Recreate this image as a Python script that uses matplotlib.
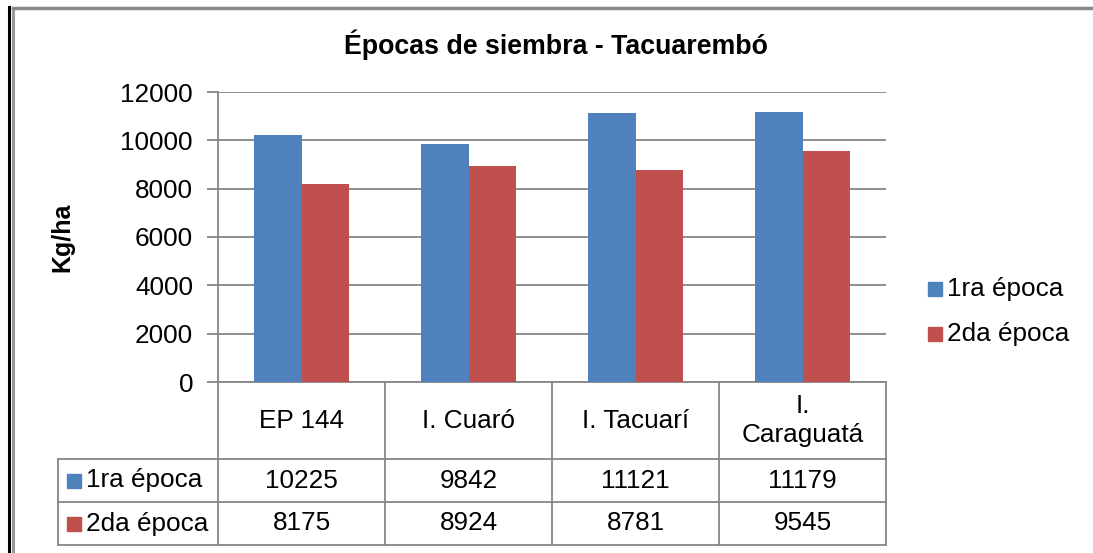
import numpy as np
import matplotlib
matplotlib.use('Agg')
import matplotlib.pyplot as plt
from matplotlib.lines import Line2D
from matplotlib.patches import Rectangle
import matplotlib.transforms as mtransforms

plt.rcParams['font.family'] = ['Liberation Sans', 'DejaVu Sans']

# Datos
categorias = ['EP 144', 'I. Cuaró', 'I. Tacuarí', 'I.\nCaraguatá']
epoca1 = [10225, 9842, 11121, 11179]
epoca2 = [8175, 8924, 8781, 9545]
series = ['1ra época', '2da época']
colores = ['#4F81BD', '#C0504D']
yticks = [0, 2000, 4000, 6000, 8000, 10000, 12000]

W, H = 1093, 553
fig = plt.figure(figsize=(W / 100, H / 100), dpi=100)

# area del grafico en pixeles (izq, arriba, der, abajo)
px_l, px_t, px_r, px_b = 218, 92, 886, 382
ax = fig.add_axes([px_l / W, 1 - px_b / H, (px_r - px_l) / W, (px_b - px_t) / H])

grid_col = '#868686'
fs = 18.8
x = np.arange(len(categorias))
ancho = 0.285
ax.bar(x - ancho / 2, epoca1, ancho, color=colores[0], zorder=3)
ax.bar(x + ancho / 2, epoca2, ancho, color=colores[1], zorder=3)

ax.set_xlim(-0.5, len(categorias) - 0.5)
ax.set_ylim(0, 12000)
ax.set_yticks(yticks)
ax.set_yticklabels([str(v) for v in yticks], fontsize=fs)
ax.set_xticks([])
ax.yaxis.grid(True, color=grid_col, linewidth=1.3, zorder=0)
ax.tick_params(axis='y', length=8, width=1.3, color=grid_col, pad=10)
for s in ['top', 'right']:
    ax.spines[s].set_visible(False)
ax.spines['left'].set_color(grid_col)
ax.spines['left'].set_linewidth(1.3)
ax.spines['bottom'].set_color(grid_col)
ax.spines['bottom'].set_linewidth(1.3)

fig.text(62 / W, 1 - 237 / H, 'Kg/ha', rotation=90, ha='center', va='center',
         fontsize=18, fontweight='bold')
fig.text(556 / W, 1 - 45 / H, 'Épocas de siembra - Tacuarembó', ha='center', va='center',
         fontsize=19.3, fontweight='bold')

# Tabla de datos (x en datos, y en ejes)
trans = mtransforms.blended_transform_factory(ax.transData, ax.transAxes)
h = px_b - px_t
y_head = -(459 - px_b) / h
y_r1 = -(502 - px_b) / h
y_r2 = -(545 - px_b) / h
x_left = -0.5 - (px_l - 58) / ((px_r - px_l) / len(categorias))
x_right = len(categorias) - 0.5

def linea(xs, ys):
    ax.add_line(Line2D(xs, ys, transform=trans, color=grid_col, linewidth=1.3, clip_on=False))

for b in np.arange(-0.5, len(categorias), 1.0):
    linea([b, b], [0, y_r2])
linea([x_left, x_left], [y_head, y_r2])
for yy in [y_head, y_r1, y_r2]:
    linea([x_left, x_right], [yy, yy])

for i, cat in enumerate(categorias):
    ax.text(i, y_head / 2, cat, transform=trans, ha='center', va='center', fontsize=fs,
            linespacing=1.25)
    ax.text(i, (y_head + y_r1) / 2, str(epoca1[i]), transform=trans, ha='center', va='center',
            fontsize=fs)
    ax.text(i, (y_r1 + y_r2) / 2, str(epoca2[i]), transform=trans, ha='center', va='center',
            fontsize=fs)

# claves de serie en la tabla
for j, (nombre, yc) in enumerate(zip(series, [(y_head + y_r1) / 2, (y_r1 + y_r2) / 2])):
    y_px = px_b - yc * h
    fig.patches.append(Rectangle((67 / W, 1 - (y_px + 7) / H), 14 / W, 14 / H,
                                 transform=fig.transFigure, color=colores[j]))
    fig.text(86 / W, 1 - y_px / H, nombre, ha='left', va='center', fontsize=fs)

# leyenda
for j, (nombre, y_px) in enumerate(zip(series, [289, 334])):
    fig.patches.append(Rectangle((928 / W, 1 - (y_px + 7) / H), 14 / W, 14 / H,
                                 transform=fig.transFigure, color=colores[j]))
    fig.text(947 / W, 1 - y_px / H, nombre, ha='left', va='center', fontsize=fs)

# borde del grafico
fig.add_artist(Line2D([8.5 / W, 8.5 / W], [0, 1 - 7 / H], transform=fig.transFigure,
                      color='black', linewidth=2.2))
fig.add_artist(Line2D([12.5 / W, 12.5 / W], [0, 1 - 8 / H], transform=fig.transFigure,
                      color='#9a9a9a', linewidth=2.2))
fig.add_artist(Line2D([12.5 / W, 1], [1 - 8 / H, 1 - 8 / H], transform=fig.transFigure,
                      color='#8a8a8a', linewidth=2.5))

fig.savefig('out.png', dpi=100)
